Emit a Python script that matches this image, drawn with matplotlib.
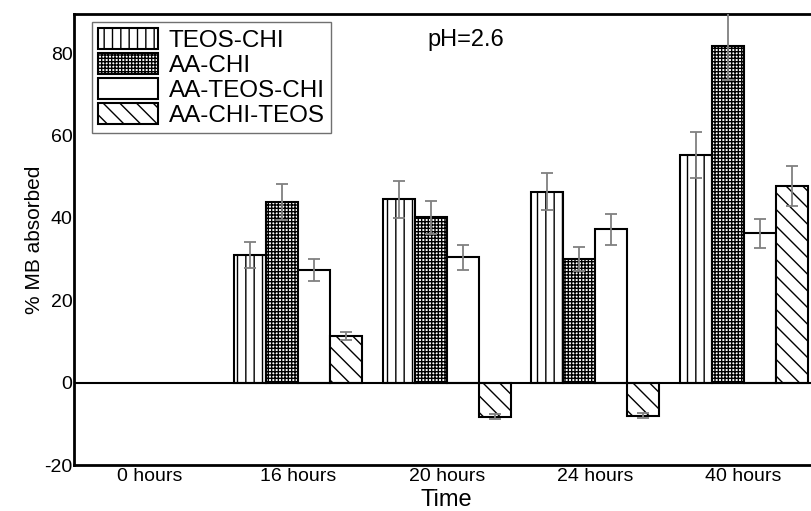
import numpy as np
import matplotlib
matplotlib.use("Agg")
import matplotlib.pyplot as plt

plt.rcParams['font.family'] = ['Liberation Sans', 'DejaVu Sans']
plt.rcParams['axes.unicode_minus'] = False
plt.rcParams['hatch.linewidth'] = 1.0

times = ['0 hours', '16 hours', '20 hours', '24 hours', '40 hours']
series = ['TEOS-CHI', 'AA-CHI', 'AA-TEOS-CHI', 'AA-CHI-TEOS']

teos_chi = [0, 31.0, 44.5, 46.4, 55.3]
aa_chi = [0, 43.9, 40.2, 30.1, 81.7]
aa_teos_chi = [0, 27.4, 30.4, 37.2, 36.3]
aa_chi_teos = [0, 11.4, -8.3, -8.0, 47.8]

teos_chi_err = [0, 3.1, 4.5, 4.6, 5.5]
aa_chi_err = [0, 4.4, 4.0, 2.9, 8.2]
aa_teos_chi_err = [0, 2.7, 3.0, 3.7, 3.5]
aa_chi_teos_err = [0, 1.0, 0.6, 0.6, 4.8]

values = [teos_chi, aa_chi, aa_teos_chi, aa_chi_teos]
errors = [teos_chi_err, aa_chi_err, aa_teos_chi_err, aa_chi_teos_err]
hatches = ['||', '+++++', '', '\\\\']

fig = plt.figure(figsize=(8.12, 5.11), dpi=100)
ax = fig.add_axes([0.0911, 0.09, 0.918, 0.8826])

x = np.arange(len(times))
w = 0.215
for i, (vals, errs, h, name) in enumerate(zip(values, errors, hatches, series)):
    pos = x + (i - 1.5) * w
    mask = np.array(vals) != 0
    ax.bar(pos[mask], np.array(vals)[mask], w, color='white', edgecolor='black',
           hatch=h, linewidth=1.5, label=name, zorder=2)
    ax.errorbar(pos[mask], np.array(vals)[mask], yerr=np.array(errs)[mask], fmt='none',
                ecolor='#808080', elinewidth=1.3, capsize=4, capthick=1.3, zorder=3)

ax.axhline(0, color='black', lw=1.5, zorder=4)

ax.set_xlim(-0.51, 4.51)
ax.set_ylim(-20, 89.5)
ax.set_yticks([-20, 0, 20, 40, 60, 80])
ax.set_xticks(x)
ax.set_xticklabels(times, fontsize=14)
ax.tick_params(axis='y', length=0, pad=1, labelsize=14)
ax.tick_params(axis='x', length=0, pad=2)
for s in ['top', 'left', 'bottom', 'right']:
    ax.spines[s].set_linewidth(2)

ax.set_xlabel('Time', fontsize=17, labelpad=3)
ax.set_ylabel('% MB absorbed', fontsize=15, labelpad=0)

fig.text(427 / 812, 1 - 40 / 511, 'pH=2.6', fontsize=17, va='center')

leg = ax.legend(loc='upper left', bbox_to_anchor=(92 / 812, 1 - 22 / 511),
                bbox_transform=fig.transFigure, borderaxespad=0, fontsize=17.5,
                handlelength=2.45, handleheight=0.95, labelspacing=0.05,
                handletextpad=0.45, borderpad=0.25, fancybox=False, framealpha=1)
leg.get_frame().set_edgecolor('#707070')
leg.get_frame().set_linewidth(1.0)

fig.savefig('out.png', dpi=100)
